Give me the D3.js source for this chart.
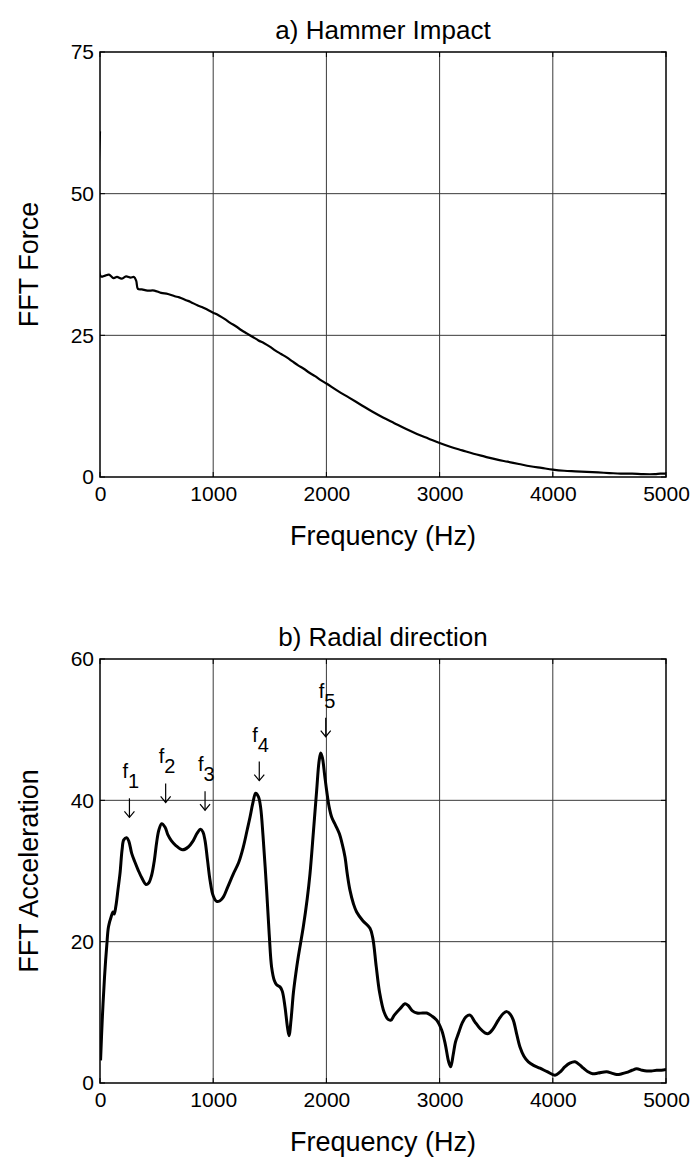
<!DOCTYPE html>
<html>
<head>
<meta charset="utf-8">
<script src="https://cdn.jsdelivr.net/npm/d3@7/dist/d3.min.js"></script>
<style>
  html, body { margin: 0; padding: 0; background: #fff; }
  svg { display: block; }
  text { font-family: "Liberation Sans", Arial, Helvetica, sans-serif; fill: #000; }
</style>
</head>
<body>
<svg id="fig" width="695" height="1160"></svg>
<script>
// ---- Data -------------------------------------------------------------
const freqTicks = [0, 1000, 2000, 3000, 4000, 5000];
const forceTicks = [0, 25, 50, 75];
const accelTicks = [0, 20, 40, 60];

// a) hammer impact spectrum: [frequency Hz, FFT force]
const forceFreq = [0, 8, 40, 80, 120, 150, 190, 230, 270, 300, 320, 335, 370, 420, 480, 540, 600, 660, 700, 760,
  800, 860, 900, 950, 1000, 1050, 1100, 1150, 1200, 1250, 1300, 1350, 1400, 1450, 1500, 1550, 1600, 1650, 1700,
  1750, 1800, 1850, 1900, 1950, 2000, 2100, 2200, 2300, 2400, 2500, 2600, 2700, 2800, 2900, 3000, 3100, 3200,
  3300, 3400, 3500, 3600, 3700, 3800, 3900, 4000, 4100, 4200, 4300, 4400, 4500, 4600, 4700, 4800, 4900, 4950, 5000];
const forceVal = [61, 35.4, 35.5, 35.7, 35.1, 35.3, 35.0, 35.4, 35.2, 35.3, 34.6, 33.2, 33.1, 32.9, 32.9, 32.5, 32.3, 31.9, 31.7, 31.2,
  30.9, 30.3, 30.0, 29.5, 29.0, 28.5, 27.9, 27.2, 26.6, 25.9, 25.3, 24.7, 24.1, 23.6, 23.0, 22.3, 21.7, 21.1, 20.4,
  19.7, 19.1, 18.4, 17.8, 17.1, 16.5, 15.2, 14.0, 12.8, 11.6, 10.5, 9.5, 8.5, 7.6, 6.8, 6.0, 5.3, 4.7,
  4.1, 3.6, 3.1, 2.7, 2.3, 1.9, 1.6, 1.3, 1.1, 1.0, 0.9, 0.8, 0.7, 0.6, 0.6, 0.5, 0.5, 0.6, 0.6];

// b) radial-direction acceleration spectrum: [frequency Hz, FFT acceleration]
const accelFreq = [5, 20, 40, 60, 75, 100, 115, 125, 140, 160, 177, 195, 210, 236, 255, 280, 310, 338, 370, 406,
  430, 456, 480, 500, 520, 545, 575, 600, 630, 670, 730, 780, 824, 860, 889, 910, 928, 950, 972, 1000,
  1031, 1060, 1089, 1130, 1178, 1225, 1266, 1300, 1325, 1350, 1375, 1400, 1419, 1440, 1472, 1495, 1516, 1540,
  1560, 1590, 1610, 1634, 1655, 1670, 1688, 1708, 1730, 1752, 1796, 1830, 1855, 1885, 1914, 1935, 1950, 1965,
  1985, 2002, 2025, 2047, 2080, 2114, 2140, 2164, 2185, 2208, 2240, 2267, 2320, 2385, 2410, 2440, 2470, 2510,
  2545, 2570, 2600, 2650, 2694, 2720, 2760, 2800, 2850, 2886, 2930, 2974, 3018, 3050, 3080, 3098, 3120, 3140,
  3166, 3200, 3235, 3269, 3310, 3357, 3400, 3431, 3470, 3519, 3560, 3593, 3625, 3651, 3680, 3710, 3745, 3784,
  3830, 3887, 3950, 4019, 4060, 4108, 4150, 4196, 4235, 4270, 4310, 4352, 4400, 4476, 4520, 4565, 4610, 4653,
  4700, 4741, 4790, 4830, 4870, 4918, 4960, 5000];
const accelVal = [3.2, 9, 15, 19.5, 22.1, 23.6, 24.2, 23.9, 25.0, 27.5, 29.7, 33.0, 34.4, 34.7, 34.2, 32.5, 31.2, 30.1, 29.0, 28.1,
  28.3, 29.4, 31.5, 34.0, 35.8, 36.7, 36.2, 35.1, 34.3, 33.6, 33.0, 33.4, 34.3, 35.4, 35.9, 35.5, 34.3, 31.5, 28.7, 26.5,
  25.7, 25.8, 26.3, 27.8, 29.6, 31.2, 33.4, 35.8, 37.6, 39.6, 41.0, 40.5, 39.0, 35.0, 27.3, 21.0, 16.4, 14.5,
  13.9, 13.6, 13.0, 10.8, 8.0, 6.7, 9.0, 12.7, 15.5, 17.9, 22.1, 26.0, 29.6, 35.5, 41.4, 45.5, 46.7, 46.0,
  43.5, 41.4, 39.0, 37.6, 36.5, 35.3, 33.8, 32.0, 29.5, 27.3, 25.3, 24.2, 23.0, 21.9, 20.5, 16.5, 12.8, 10.0,
  9.0, 8.9, 9.6, 10.5, 11.2, 11.0, 10.2, 9.9, 9.9, 9.9, 9.5, 8.9, 7.5, 5.5, 3.0, 2.3, 4.0, 5.8,
  7.0, 8.5, 9.4, 9.6, 8.7, 7.7, 7.1, 7.0, 7.6, 8.9, 9.8, 10.1, 9.7, 8.9, 7.0, 5.1, 3.8, 3.0,
  2.5, 2.1, 1.6, 1.1, 1.5, 2.3, 2.8, 3.0, 2.6, 2.1, 1.6, 1.3, 1.4, 1.6, 1.4, 1.2, 1.3, 1.5,
  1.8, 2.0, 1.8, 1.7, 1.7, 1.8, 1.8, 1.9];

// mode markers f1..f5: frequency of each arrow and the level its tip reaches
const modeNames = ["1", "2", "3", "4", "5"];
const modeFreq = [260, 580, 928, 1407, 1994];
const modeTip = [37.6, 39.7, 38.6, 42.8, 49.0];

// ---- Drawing ----------------------------------------------------------
const svg = d3.select("#fig");
svg.append("rect").attr("width", 695).attr("height", 1160).attr("fill", "#fff");

const defs = svg.append("defs");
const TICK_FS = 21, TITLE_FS = 26, LABEL_FS = 27;

function panel(opt) {
  const { left, right, top, bottom, yMax, yTicks, xs, ys, title, ylabel } = opt;
  const x = d3.scaleLinear().domain([0, 5000]).range([left, right]);
  const y = d3.scaleLinear().domain([0, yMax]).range([bottom, top]);
  const g = svg.append("g");

  // grid
  g.append("g").selectAll("line").data(freqTicks.slice(1, -1)).join("line")
    .attr("x1", d => x(d)).attr("x2", d => x(d)).attr("y1", top).attr("y2", bottom)
    .attr("stroke", "#3a3a3a").attr("stroke-width", 1);
  g.append("g").selectAll("line").data(yTicks.slice(1, -1)).join("line")
    .attr("y1", d => y(d)).attr("y2", d => y(d)).attr("x1", left).attr("x2", right)
    .attr("stroke", "#3a3a3a").attr("stroke-width", 1);

  // tick labels via d3 axes
  const xAxis = g.append("g").attr("transform", `translate(0,${bottom})`)
    .call(d3.axisBottom(x).tickValues(freqTicks).tickSize(0).tickPadding(7).tickFormat(d3.format("d")));
  xAxis.select(".domain").remove();
  xAxis.selectAll("text").attr("font-size", TICK_FS).attr("dy", "0.8em")
    .style("font-family", "'Liberation Sans', Arial, sans-serif").attr("fill", "#000");

  const yAxis = g.append("g").attr("transform", `translate(${left},0)`)
    .call(d3.axisLeft(y).tickValues(yTicks).tickSize(0).tickPadding(6).tickFormat(d3.format("d")));
  yAxis.select(".domain").remove();
  yAxis.selectAll("text").attr("font-size", TICK_FS)
    .style("font-family", "'Liberation Sans', Arial, sans-serif").attr("fill", "#000");

  // inner tick marks
  const tk = 5;
  freqTicks.forEach(d => {
    g.append("line").attr("x1", x(d)).attr("x2", x(d)).attr("y1", bottom).attr("y2", bottom - tk).attr("stroke", "#000");
    g.append("line").attr("x1", x(d)).attr("x2", x(d)).attr("y1", top).attr("y2", top + tk).attr("stroke", "#000");
  });
  yTicks.forEach(d => {
    g.append("line").attr("y1", y(d)).attr("y2", y(d)).attr("x1", left).attr("x2", left + tk).attr("stroke", "#000");
    g.append("line").attr("y1", y(d)).attr("y2", y(d)).attr("x1", right).attr("x2", right - tk).attr("stroke", "#000");
  });

  // data line
  const clipId = "clip" + Math.round(top);
  defs.append("clipPath").attr("id", clipId).append("rect")
    .attr("x", left).attr("y", top).attr("width", right - left).attr("height", bottom - top);
  const pts = xs.map((f, i) => [f, ys[i]]);
  g.append("path").datum(pts)
    .attr("clip-path", `url(#${clipId})`)
    .attr("fill", "none").attr("stroke", "#000").attr("stroke-width", opt.lw)
    .attr("stroke-linejoin", "round")
    .attr("d", d3.line().x(d => x(d[0])).y(d => y(d[1])).curve(d3.curveCatmullRom.alpha(0.5)));

  // frame
  g.append("rect").attr("x", left).attr("y", top).attr("width", right - left).attr("height", bottom - top)
    .attr("fill", "none").attr("stroke", "#000").attr("stroke-width", 1.5);

  // titles
  g.append("text").attr("x", (left + right) / 2).attr("y", top - 13).attr("text-anchor", "middle")
    .attr("font-size", TITLE_FS).text(title);
  g.append("text").attr("x", (left + right) / 2).attr("y", bottom + 68).attr("text-anchor", "middle")
    .attr("font-size", LABEL_FS).text("Frequency (Hz)");
  g.append("text").attr("transform", `translate(${left - 62},${(top + bottom) / 2}) rotate(-90)`)
    .attr("text-anchor", "middle").attr("font-size", LABEL_FS).text(ylabel);

  return { x, y, g };
}

panel({ left: 100, right: 666, top: 52, bottom: 477, yMax: 75, yTicks: forceTicks,
  xs: forceFreq, ys: forceVal, lw: 2.2, title: "a) Hammer Impact", ylabel: "FFT Force" });

const pb = panel({ left: 100, right: 666, top: 659, bottom: 1083, yMax: 60, yTicks: accelTicks,
  xs: accelFreq, ys: accelVal, lw: 3, title: "b) Radial direction", ylabel: "FFT Acceleration" });

// f1..f5 arrows with labels
modeNames.forEach((n, i) => {
  const ax = pb.x(modeFreq[i]);
  const tipY = pb.y(modeTip[i]);
  const topY = tipY - 19;
  const a = pb.g.append("g");
  a.append("line").attr("x1", ax).attr("x2", ax).attr("y1", topY).attr("y2", tipY)
    .attr("stroke", "#000").attr("stroke-width", 1.2);
  a.append("path").attr("d", `M${ax - 5},${tipY - 6} L${ax},${tipY} L${ax + 5},${tipY - 6}`)
    .attr("fill", "none").attr("stroke", "#000").attr("stroke-width", 1.2);
  const t = a.append("text").attr("x", ax - 7).attr("y", topY - 20).attr("font-size", 20);
  t.append("tspan").text("f");
  t.append("tspan").attr("dy", 10).text(n);
});
</script>
</body>
</html>
